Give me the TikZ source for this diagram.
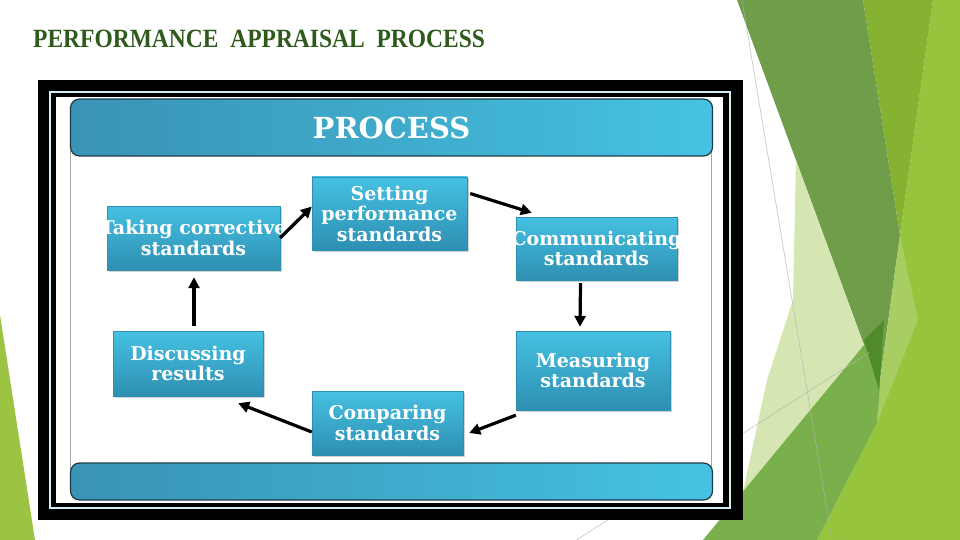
\documentclass[tikz,border=0pt]{standalone}
\usepackage{fontspec}
\usepackage{xcolor}
\usepackage{graphicx}
\usepackage{tikz}
\usetikzlibrary{positioning,calc,shapes,arrows.meta,shadows}
\setmainfont{Liberation Serif}
\newfontfamily\boxfont{DejaVu Serif}
\definecolor{titlegreen}{HTML}{2E5A1C}
\definecolor{barleft}{HTML}{3993B4}
\definecolor{barright}{HTML}{45C2E3}
\definecolor{baredge}{HTML}{1E3C47}
\definecolor{boxtop}{HTML}{45C1E3}
\definecolor{boxbot}{HTML}{2E8FB1}
\definecolor{framecyan}{HTML}{D2F0F5}
\definecolor{darkgreen}{HTML}{6F9D4A}
\definecolor{olivegreen}{HTML}{86B232}
\definecolor{limegreen}{HTML}{96C43C}
\definecolor{lightpatch}{HTML}{A8CD63}
\definecolor{palegreen}{HTML}{D5E6B2}
\definecolor{midgreen}{HTML}{7AB04B}
\definecolor{deepgreen}{HTML}{4F8B28}
\definecolor{leftlime}{HTML}{9DC343}
\tikzstyle{stagebox}=[rectangle, draw=boxbot, top color=boxtop, bottom color=boxbot, text=white, align=center, inner sep=0pt, font=\boxfont\bfseries\fontsize{19}{20.5}\selectfont, drop shadow={shadow xshift=1.5pt, shadow yshift=-1.5pt, opacity=0.35}]
\tikzstyle{bar}=[rectangle, rounded corners=9pt, draw=baredge, line width=1.2pt, left color=barleft, right color=barright]
\tikzstyle{flow}=[line width=3.2pt, -{Triangle[length=11pt,width=11pt]}]

\begin{document}
\begin{tikzpicture}[x=1pt,y=-1pt]
				\useasboundingbox (0,0) rectangle (960,540);
				\fill[white] (0,0) rectangle (960,540);
				% green facets
				\fill[leftlime] (0,315) -- (0,540) -- (35,540) -- cycle;
				\fill[limegreen] (900,235) -- (933,0) -- (960,0) -- (960,540) -- (817,540) -- (877,423) -- cycle;
				\fill[olivegreen] (863,0) -- (933,0) -- (900,235) -- cycle;
				\fill[darkgreen] (737,0) -- (863,0) -- (900,235) -- (879,388) -- (864,345) -- cycle;
				\fill[lightpatch] (900,235) -- (879,388) -- (877,423) -- (918,320) -- cycle;
				\fill[palegreen] (796,160) -- (864,345) -- (743,492) -- (767,380) -- (793,300) -- cycle;
				\fill[midgreen] (864,345) -- (703,540) -- (817,540) -- (877,423) -- (880,385) -- cycle;
				\fill[deepgreen] (864,340) -- (884,320) -- (879,390) -- cycle;
				\draw[gray!60, line width=0.4pt] (742,0) -- (832,540);
				\draw[gray!60, line width=0.4pt] (575,541) -- (870,352);
				% title
				\node[anchor=base west, inner sep=0pt, text=titlegreen, font=\bfseries\fontsize{23.5}{28}\selectfont] (title) at (33,48) {\scalebox{1}[1.12]{PERFORMANCE\ \ APPRAISAL\ \ PROCESS}};
				% frame
				\fill[black] (38,80) rectangle (743,520);
				\draw[framecyan, line width=2pt] (50,92) rectangle (730,508);
				\fill[white] (56,97) rectangle (723,503);
				\draw[gray!70, line width=1pt] (70.5,150) -- (70.5,470);
				\draw[gray!70, line width=1pt] (711.5,150) -- (711.5,470);
				\node[bar, minimum width=642pt, minimum height=57pt, text=white, font=\boxfont\bfseries\fontsize{29}{34}\selectfont] (head) at (391.5,127.5) {PROCESS};
				\node[bar, minimum width=642pt, minimum height=37pt] (foot) at (391.5,481.5) {};
				% stages
				\node[stagebox, minimum width=155pt, minimum height=73pt] (setting) at (389.5,213.5) {Setting\\performance\\standards};
				\node[stagebox, minimum width=161pt, minimum height=63pt] (communicating) at (596.5,248.5) {\makebox[150pt]{Communicating}\\standards};
				\node[stagebox, minimum width=154pt, minimum height=79pt] (measuring) at (593,370.5) {Measuring\\standards};
				\node[stagebox, minimum width=151pt, minimum height=64pt] (comparing) at (387.5,423) {Comparing\\standards};
				\node[stagebox, minimum width=150pt, minimum height=65pt] (discussing) at (188,363.5) {Discussing\\results};
				\node[stagebox, minimum width=173pt, minimum height=64pt] (taking) at (193.5,238) {\makebox[160pt]{Taking corrective}\\standards};
				\draw[flow] (taking.east) -- ($(setting.west)+(0,-7)$);
				\draw[flow] ($(setting.east)+(3,-20)$) -- ($(communicating.north west)+(16,-4)$);
				\draw[flow] ($(communicating.south)+(-16,3)$) -- ($(measuring.north)+(-13,-4)$);
				\draw[flow] ($(measuring.south west)+(0,5)$) -- ($(comparing.east)+(6,10)$);
				\draw[flow] ($(comparing.west)+(0,9)$) -- ($(discussing.south east)+(-25,7)$);
				\draw[flow] ($(discussing.north)+(6,-5)$) -- ($(taking.south)+(0.5,7)$);
			\end{tikzpicture}
\end{document}
